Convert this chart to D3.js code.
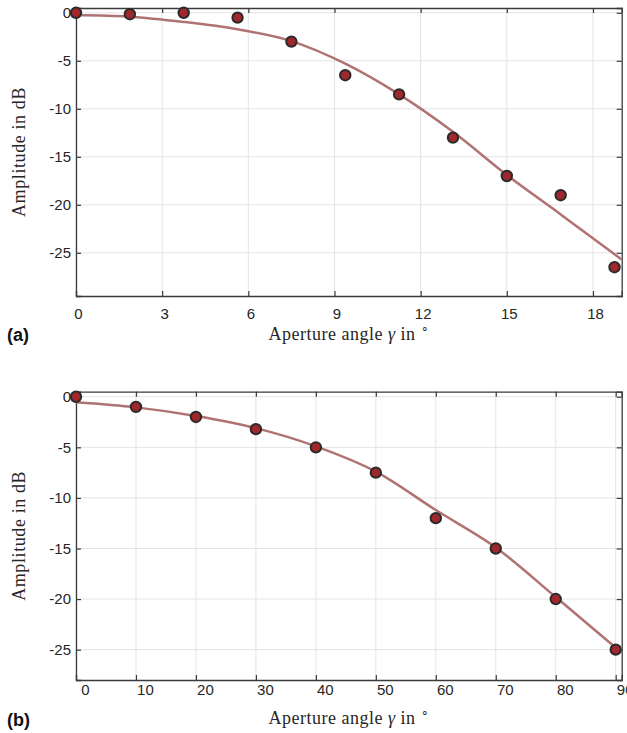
<!DOCTYPE html>
<html>
<head>
<meta charset="utf-8">
<script src="https://cdn.jsdelivr.net/npm/d3@7"></script>
<style>
  html, body { margin: 0; padding: 0; background: #ffffff; }
  svg { display: block; }
</style>
</head>
<body>
<svg id="fig" width="627" height="733"></svg>
<script>
// Panel (a): measured amplitude vs. aperture angle, with fitted curve
const angleA = [0, 1.875, 3.75, 5.625, 7.5, 9.375, 11.25, 13.125, 15, 16.875, 18.75];
const measuredA = [0, -0.15, 0, -0.5, -3.0, -6.5, -8.5, -13.0, -17.0, -19.0, -26.5];
const fitAngleA = [0, 1.875, 3.75, 5.625, 7.5, 9.375, 11.25, 13.125, 15, 16.875, 19];
const fitA = [-0.23, -0.4, -0.95, -1.72, -2.95, -5.3, -8.5, -12.4, -16.9, -21.0, -25.7];
const xTicksA = [0, 3, 6, 9, 12, 15, 18];

// Panel (b)
const angleB = [0, 10, 20, 30, 40, 50, 60, 70, 80, 90];
const measuredB = [0, -1.0, -2.0, -3.2, -5.0, -7.5, -12.0, -15.0, -20.0, -25.0];
const fitAngleB = [0, 10, 20, 30, 40, 50, 60, 70, 80, 90];
const fitB = [-0.55, -1.05, -1.9, -3.1, -4.9, -7.4, -11.2, -14.9, -19.8, -24.8];
const xTicksB = [0, 10, 20, 30, 40, 50, 60, 70, 80, 90];

const yTicks = [-25, -20, -15, -10, -5, 0];

const svg = d3.select("#fig");

const COLORS = {
  axis: "#3a3a3a",
  text: "#262626",
  grid: "#e4e4e4",
  line: "#b07373",
  markerFill: "#a0272b",
  markerStroke: "#2b2b2b"
};

function panel(cfg) {
  const { left, right, top, bottom, xDomain, yDomain, xTicks,
          angles, measured, fitAngles, fit, tag, id, labelDx, labelDy } = cfg;
  const x = d3.scaleLinear().domain(xDomain).range([left, right]);
  const y = d3.scaleLinear().domain(yDomain).range([bottom, top]);
  const g = svg.append("g");

  // grid
  g.append("g").selectAll("line.gx").data(xTicks).join("line")
    .attr("x1", d => x(d)).attr("x2", d => x(d))
    .attr("y1", top).attr("y2", bottom)
    .attr("stroke", COLORS.grid).attr("stroke-width", 1);
  g.append("g").selectAll("line.gy").data(yTicks).join("line")
    .attr("x1", left).attr("x2", right)
    .attr("y1", d => y(d)).attr("y2", d => y(d))
    .attr("stroke", COLORS.grid).attr("stroke-width", 1);

  // axes (box with inward ticks on all sides)
  const tickLen = 5;
  const axB = g.append("g").attr("transform", `translate(0,${bottom})`)
    .call(d3.axisBottom(x).tickValues(xTicks).tickSize(-tickLen).tickPadding(0)
      .tickFormat(d3.format("d")));
  axB.selectAll("text").attr("dy", labelDy).attr("dx", labelDx);
  const axT = g.append("g").attr("transform", `translate(0,${top})`)
    .call(d3.axisTop(x).tickValues(xTicks).tickSize(-tickLen).tickFormat(""));
  const axL = g.append("g").attr("transform", `translate(${left},0)`)
    .call(d3.axisLeft(y).tickValues(yTicks).tickSize(-tickLen).tickPadding(8)
      .tickFormat(d => d === 0 ? "0" : "-" + Math.abs(d)));
  const axR = g.append("g").attr("transform", `translate(${right},0)`)
    .call(d3.axisRight(y).tickValues(yTicks).tickSize(-tickLen).tickFormat(""));

  [axB, axT, axL, axR].forEach(a => {
    a.select(".domain").attr("stroke", COLORS.axis).attr("stroke-width", 1.3);
    a.selectAll(".tick line").attr("stroke", COLORS.axis).attr("stroke-width", 1.2);
    a.selectAll("text").attr("fill", COLORS.text)
      .style("font-family", "'Liberation Sans', Arial, sans-serif")
      .style("font-size", "15px");
  });
  axL.selectAll("text").attr("dx", 3);

  // fitted curve (clipped to the plotting area)
  svg.append("clipPath").attr("id", id)
    .append("rect").attr("x", left).attr("y", top)
    .attr("width", right - left).attr("height", bottom - top);
  const line = d3.line().x(d => x(d[0])).y(d => y(d[1])).curve(d3.curveMonotoneX);
  g.append("path")
    .datum(d3.zip(fitAngles, fit))
    .attr("d", line)
    .attr("fill", "none")
    .attr("stroke", COLORS.line)
    .attr("stroke-width", 2.5)
    .attr("clip-path", `url(#${id})`);

  // measurements
  g.append("g").selectAll("circle").data(d3.zip(angles, measured)).join("circle")
    .attr("cx", d => x(d[0])).attr("cy", d => y(d[1]))
    .attr("r", 5.2)
    .attr("fill", COLORS.markerFill)
    .attr("stroke", COLORS.markerStroke)
    .attr("stroke-width", 2);

  // axis titles
  const serif = "'Liberation Serif', 'Times New Roman', serif";
  const xl = g.append("text")
    .attr("x", (left + right) / 2 + 0).attr("y", bottom + 44)
    .attr("text-anchor", "middle")
    .attr("fill", COLORS.text)
    .style("font-family", serif).style("font-size", "18px")
    .style("letter-spacing", "0.5px");
  xl.append("tspan").text("Aperture angle ");
  xl.append("tspan").style("font-style", "italic").text("γ");
  xl.append("tspan").text(" in ");
  xl.append("tspan").attr("dy", -7).style("font-size", "12px").text("∘");

  g.append("text")
    .attr("transform", `translate(25,${(top + bottom) / 2}) rotate(-90)`)
    .attr("text-anchor", "middle")
    .attr("fill", COLORS.text)
    .style("font-family", serif).style("font-size", "18px")
    .style("letter-spacing", "0.6px")
    .text("Amplitude in dB");

  g.append("text")
    .attr("x", 7).attr("y", bottom + cfg.tagDy)
    .attr("fill", "#111111")
    .style("font-family", "'Liberation Sans', Arial, sans-serif")
    .style("font-weight", "bold").style("font-size", "18px")
    .text(tag);
}

panel({
  left: 76, right: 621.7, top: 8, bottom: 296,
  xDomain: [0, 19], yDomain: [-29.5, 0.5], xTicks: xTicksA,
  angles: angleA, measured: measuredA, fitAngles: fitAngleA, fit: fitA,
  tag: "(a)", id: "clipA", labelDx: 2, labelDy: "1.55em", tagDy: 45
});

panel({
  left: 76, right: 621.7, top: 391.7, bottom: 680,
  xDomain: [0, 91], yDomain: [-28, 0.5], xTicks: xTicksB,
  angles: angleB, measured: measuredB, fitAngles: fitAngleB, fit: fitB,
  tag: "(b)", id: "clipB", labelDx: 9, labelDy: "1.0em", tagDy: 46
});
</script>
</body>
</html>
